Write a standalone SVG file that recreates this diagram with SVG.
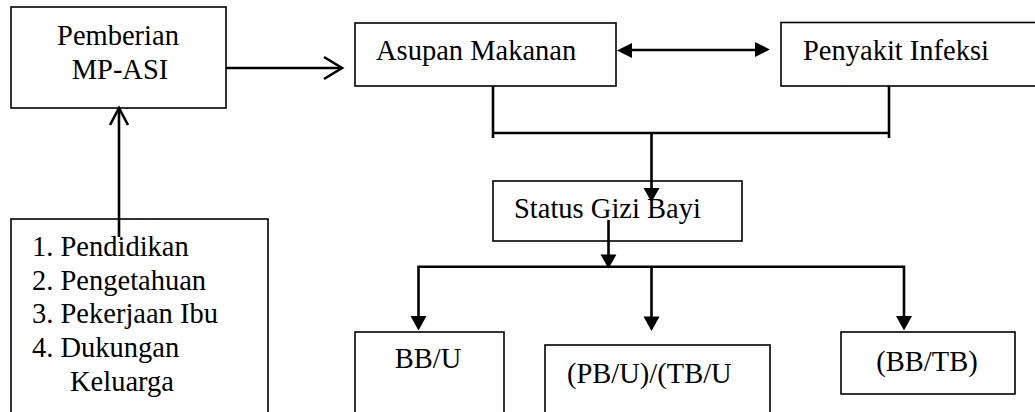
<svg xmlns="http://www.w3.org/2000/svg" width="1035" height="412" viewBox="0 0 1035 412">
<style>
.box{fill:#fff;stroke:#000;stroke-width:1.6}
.t{font-family:'Liberation Serif','DejaVu Serif',serif;font-size:28.5px;fill:#000}
.c{fill:none;stroke:#000;stroke-width:2.6}
.h{fill:#000;stroke:none}
</style>
<rect width="1035" height="412" fill="#fff"/>
<g id="pemberian">
<rect class="box" x="11" y="7" width="215" height="101"/>
<text class="t" font-family="Liberation Serif" x="118" y="45" text-anchor="middle">Pemberian</text>
<text class="t" font-family="Liberation Serif" x="120" y="79" text-anchor="middle">MP-ASI</text>
</g>
<g id="faktor">
<rect class="box" x="11" y="219" width="257" height="210"/>
<text class="t" font-family="Liberation Serif" x="32" y="256">1. Pendidikan</text>
<text class="t" font-family="Liberation Serif" x="32" y="290">2. Pengetahuan</text>
<text class="t" font-family="Liberation Serif" x="32" y="323">3. Pekerjaan Ibu</text>
<text class="t" font-family="Liberation Serif" x="32" y="357">4. Dukungan</text>
<text class="t" font-family="Liberation Serif" x="70" y="391">Keluarga</text>
</g>
<g id="asupan">
<rect class="box" x="355" y="23" width="261" height="63"/>
<text class="t" font-family="Liberation Serif" x="376" y="60">Asupan Makanan</text>
</g>
<g id="penyakit">
<rect class="box" x="781" y="22.5" width="270" height="63.5"/>
<text class="t" font-family="Liberation Serif" x="803" y="60">Penyakit Infeksi</text>
</g>
<g id="status">
<rect class="box" x="493" y="181" width="249" height="60"/>
<text class="t" font-family="Liberation Serif" x="514" y="218">Status Gizi Bayi</text>
</g>
<g id="bbu">
<rect class="box" x="355" y="332" width="149" height="100"/>
<text class="t" font-family="Liberation Serif" x="428" y="368" text-anchor="middle">BB/U</text>
</g>
<g id="pbu">
<rect class="box" x="545" y="345" width="225" height="90"/>
<text class="t" font-family="Liberation Serif" x="567" y="383">(PB/U)/(TB/U</text>
</g>
<g id="bbtb">
<rect class="box" x="841" y="332" width="174" height="62"/>
<text class="t" font-family="Liberation Serif" x="927" y="371" text-anchor="middle">(BB/TB)</text>
</g>
<g id="connectors">
<line class="c" x1="226" y1="68" x2="341" y2="68"/>
<polyline class="c" points="324,57 342,68 324,79"/>
<line class="c" x1="119" y1="237" x2="119" y2="109"/>
<polyline class="c" points="110,125 119,108 128,125"/>
<line class="c" x1="630" y1="50" x2="757" y2="50"/>
<polygon class="h" points="617,50.5 632,43 632,58"/>
<polygon class="h" points="770,49.5 755,42 755,57"/>
<line class="c" x1="493" y1="86" x2="493" y2="138"/>
<line class="c" x1="889" y1="86" x2="889" y2="138"/>
<line class="c" x1="493" y1="133" x2="889" y2="133"/>
<line class="c" x1="651.5" y1="133" x2="651.5" y2="190"/>
<polygon class="h" points="651.5,202 643.5,188 659.5,188"/>
<line class="c" x1="608.5" y1="220" x2="608.5" y2="256"/>
<polygon class="h" points="608.5,268.5 600.5,254.5 616.5,254.5"/>
<polyline class="c" points="418.5,317 418.5,266.7 904,266.7 904,317"/>
<line class="c" x1="651.5" y1="266.7" x2="651.5" y2="318"/>
<polygon class="h" points="418.5,330.5 410.5,316 426.5,316"/>
<polygon class="h" points="651.5,331 643.5,316.5 659.5,316.5"/>
<polygon class="h" points="904,330.5 896,316 912,316"/>
</g>
</svg>
